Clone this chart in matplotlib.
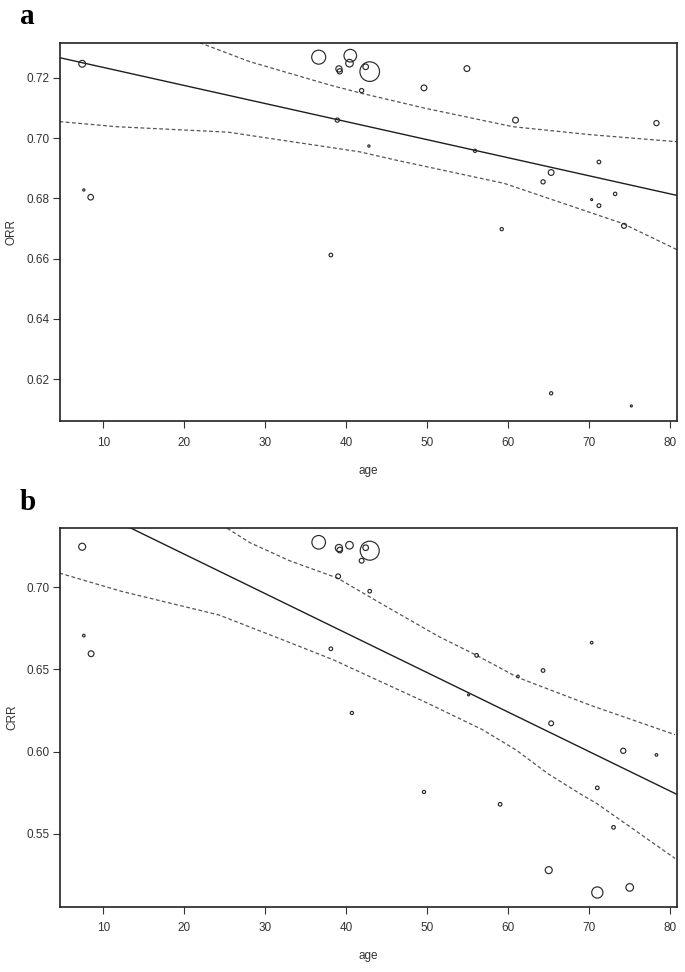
"""Meta-regression of ORR / CRR on age, two panels (a, b)"""

import numpy as np
import matplotlib
matplotlib.use("Agg")
import matplotlib.pyplot as plt

plt.rcParams['font.family'] = ['Liberation Sans', 'DejaVu Sans']

# panel a : ORR
age_a = [7.4, 7.6, 8.45, 36.6, 38.1, 38.9, 39.1, 39.2, 40.4, 40.5, 41.9, 42.4, 42.8, 42.9,
         49.6, 54.9, 55.9, 59.2, 60.9, 64.3, 65.3, 65.3, 70.3, 71.2, 71.2, 73.2, 74.3, 75.2, 78.3]
orr = [0.7247, 0.6828, 0.6804, 0.7269, 0.6612, 0.7060, 0.7230, 0.7222, 0.7249, 0.7274, 0.7158,
       0.7237, 0.6974, 0.7221, 0.7167, 0.7231, 0.6958, 0.6698, 0.7060, 0.6855, 0.6886, 0.6153,
       0.6796, 0.6921, 0.6776, 0.6815, 0.6709, 0.6111, 0.7050]
rad_a = [3.4, 1.1, 2.8, 7.0, 1.8, 2.1, 3.1, 2.6, 3.8, 6.3, 2.1, 2.8, 1.1, 9.8,
         2.9, 2.9, 1.6, 1.6, 2.9, 2.1, 2.9, 1.6, 1.0, 1.8, 1.9, 1.7, 2.5, 1.0, 2.6]
fit_a = (0.7295, -0.0006)  # intercept, slope
up_a_x = [21.9, 28.1, 37.9, 41.9, 49.8, 60.6, 70.0, 80.9]
up_a_y = [0.7317, 0.7254, 0.7177, 0.7149, 0.7099, 0.7038, 0.7012, 0.6988]
lo_a_x = [4.6, 11.7, 25.4, 41.6, 46.0, 59.5, 74.1, 80.9]
lo_a_y = [0.7055, 0.7038, 0.7020, 0.6955, 0.6928, 0.6850, 0.6717, 0.6629]

# panel b : CRR
age_b = [7.4, 7.6, 8.5, 36.6, 38.1, 39.0, 39.1, 39.2, 40.4, 40.7, 41.9, 42.4, 42.9, 42.9,
         49.6, 55.1, 56.1, 59.0, 61.2, 64.3, 65.3, 65.0, 70.3, 71.0, 71.0, 73.0, 74.2, 75.0, 78.3]
crr = [0.7245, 0.6705, 0.6595, 0.7272, 0.6625, 0.7065, 0.7237, 0.7225, 0.7254, 0.6235, 0.7160,
       0.7239, 0.6975, 0.7221, 0.5755, 0.6345, 0.6585, 0.5680, 0.6457, 0.6493, 0.6172, 0.5280,
       0.6662, 0.5780, 0.5144, 0.5540, 0.6005, 0.5175, 0.5980]
rad_b = [3.5, 1.3, 2.9, 6.8, 1.8, 2.4, 3.6, 2.8, 3.8, 1.6, 2.4, 2.8, 1.8, 9.5,
         1.6, 1.0, 1.8, 1.8, 1.3, 1.8, 2.4, 3.5, 1.3, 1.8, 5.6, 1.8, 2.6, 3.8, 1.3]
fit_b = (0.7680, -0.00240)
up_b_x = [25.3, 28.1, 33.0, 38.9, 45.0, 51.4, 56.1, 61.2, 70.3, 80.6]
up_b_y = [0.7357, 0.7270, 0.7160, 0.7055, 0.6880, 0.6700, 0.6585, 0.6450, 0.6279, 0.6103]
lo_b_x = [4.6, 12.1, 24.3, 32.4, 38.4, 49.8, 56.8, 61.0, 64.9, 69.3, 70.9, 80.6]
lo_b_y = [0.7085, 0.6976, 0.6830, 0.6675, 0.6558, 0.6300, 0.6134, 0.6009, 0.5866, 0.5731, 0.5686, 0.5351]

xlim = (4.6, 80.8)
W, H = 685, 972


def panel(rect, x, y, r, fit, ux, uy, lx, ly, ylim, yticks, ylab, letter, ly_letter):
    ax = fig.add_axes(rect)
    ms = (2 * np.array(r) * 0.72) ** 2  # radius px -> marker area pt^2
    ax.scatter(x, y, s=ms, facecolors='none', edgecolors='#2a2a2a', linewidths=0.85, zorder=3)
    xx = np.array(xlim)
    ax.plot(xx, fit[0] + fit[1] * xx, color='#1e1e1e', lw=1.0)
    ax.plot(ux, uy, color='#555555', lw=0.9, dashes=(3, 2))
    ax.plot(lx, ly, color='#555555', lw=0.9, dashes=(3, 2))
    ax.set_xlim(xlim)
    ax.set_ylim(ylim)
    ax.set_xticks(range(10, 81, 10))
    ax.set_yticks(yticks)
    ax.set_yticklabels(['%.2f' % t for t in yticks])
    ax.tick_params(direction='out', length=5, width=0.8, colors='#333333', labelsize=8.5)
    ax.tick_params(axis='x', pad=6.5)
    ax.tick_params(axis='y', pad=2)
    for s in ax.spines.values():
        s.set_linewidth(1.2)
        s.set_color('#222222')
    ax.set_xlabel('age', fontsize=8.5, color='#333333')
    ax.set_ylabel(ylab, fontsize=8.5, color='#333333')
    ax.xaxis.set_label_coords(0.5, -0.132)
    ax.xaxis.label.set_va('center')
    ax.yaxis.set_label_coords(-0.077, 0.5)
    ax.yaxis.label.set_va('center')
    fig.text(20 / W, 1 - ly_letter / H, letter, fontsize=21, fontweight='bold',
             family='Liberation Serif', va='center', ha='left')
    return ax


fig = plt.figure(figsize=(6.85, 9.72), dpi=100)
L, R = 59.5 / W, 676.7 / W
panel([L, 1 - 420.7 / H, R - L, 378 / H], age_a, orr, rad_a, fit_a,
      up_a_x, up_a_y, lo_a_x, lo_a_y, (0.6062, 0.7317),
      [0.62, 0.64, 0.66, 0.68, 0.70, 0.72], 'ORR', 'a', 17)
panel([L, 1 - 906.5 / H, R - L, 378.2 / H], age_b, crr, rad_b, fit_b,
      up_b_x, up_b_y, lo_b_x, lo_b_y, (0.5059, 0.7357),
      [0.55, 0.60, 0.65, 0.70], 'CRR', 'b', 502)

fig.savefig('out.png', dpi=100)
